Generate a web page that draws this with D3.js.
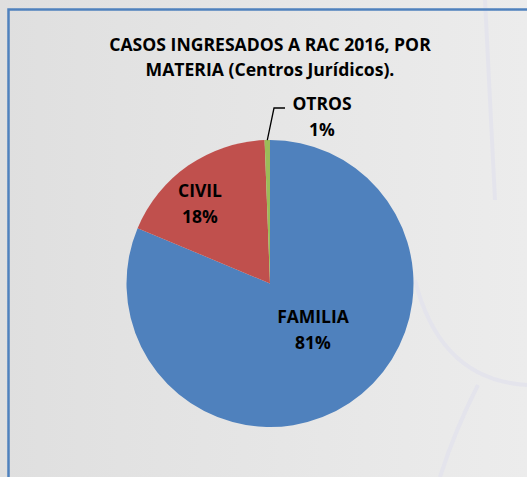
<!DOCTYPE html>
<html><head><meta charset="utf-8">
<script src="https://cdn.jsdelivr.net/npm/d3@7"></script>
<style>html,body{margin:0;padding:0;background:#e4e4e4;}svg{display:block;}</style>
</head><body>
<script>
const categories = ["FAMILIA", "CIVIL", "OTROS"];
const values = [81.3, 18.1, 0.6];
const colors = ["#4F81BD", "#C0504D", "#9BBB59"];
const titleLines = ["CASOS INGRESADOS A RAC 2016, POR", "MATERIA (Centros Jurídicos)."];

const W = 527, H = 477;
const svg = d3.select("body").append("svg").attr("width", W).attr("height", H);
const defs = svg.append("defs");
const grad = defs.append("linearGradient").attr("id", "bg").attr("x1", 0).attr("x2", 1).attr("y1", 0).attr("y2", 0);
grad.append("stop").attr("offset", "0%").attr("stop-color", "#dfdfdf");
grad.append("stop").attr("offset", "100%").attr("stop-color", "#ececec");
svg.append("rect").attr("width", W).attr("height", H).attr("fill", "url(#bg)");

// faint decorative background strokes
const deco = svg.append("g").attr("fill", "none").attr("stroke", "#e4e4ec").attr("stroke-width", 4);
deco.append("path").attr("d", "M415,280 Q440,380 527,385");
deco.append("path").attr("d", "M478,385 Q455,430 440,477");
deco.append("path").attr("d", "M485,0 Q490,100 495,200");

// border box
svg.append("path").attr("d", `M8.5,${H} L8.5,9.5 L${W},9.5`).attr("fill", "none")
  .attr("stroke", "#4F81BD").attr("stroke-width", 2.5);

const font = "'Open Sans', 'Liberation Sans', sans-serif";
// title
const title = svg.append("text").attr("text-anchor", "middle")
  .attr("font-family", font).attr("font-weight", "bold")
  .attr("font-size", 17.6).attr("fill", "#000");
titleLines.forEach((t, i) => title.append("tspan").attr("x", 270).attr("y", 50.5 + i * 25.5).text(t));

const cx = 270, cy = 283.5, r = 143.5;
const total = d3.sum(values);
const data = categories.map((c, i) => ({ c, v: values[i], col: colors[i] }));
const pie = d3.pie().sort(null).value(d => d.v);
const arcs = pie(data);
const arc = d3.arc().innerRadius(0).outerRadius(r);
const g = svg.append("g").attr("transform", `translate(${cx},${cy})`);
g.selectAll("path.slice").data(arcs).join("path").attr("class", "slice")
  .attr("d", arc).attr("fill", d => d.data.col);

const fmt = v => Math.round(v / total * 100) + "%";
const labelPos = { FAMILIA: [313, 323], CIVIL: [200, 197], OTROS: [322, 110] };
arcs.forEach(a => {
  const [lx, ly] = labelPos[a.data.c];
  const t = svg.append("text").attr("text-anchor", "middle").attr("font-family", font)
    .attr("font-weight", "bold").attr("font-size", 17.5).attr("fill", "#000");
  t.append("tspan").attr("x", lx).attr("y", ly).text(a.data.c);
  t.append("tspan").attr("x", lx).attr("y", ly + 25.5).text(fmt(a.data.v));
});

// leader line for OTROS
const otros = arcs[2];
const mid = (otros.startAngle + otros.endAngle) / 2;
const p0 = [cx + Math.sin(mid) * r, cy - Math.cos(mid) * r];
svg.append("polyline").attr("fill", "none").attr("stroke", "#000").attr("stroke-width", 1.3)
  .attr("points", `${p0[0]},${p0[1]} ${274},${108} ${285},${108}`);
</script>
</body></html>
